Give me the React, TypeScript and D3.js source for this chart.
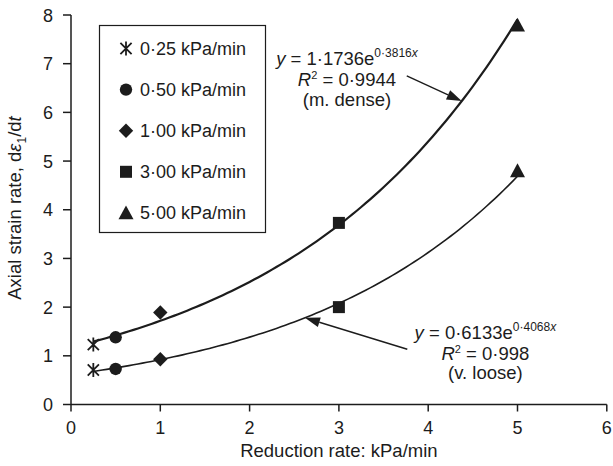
import React from 'react';
import * as d3 from 'd3';

const rates = [0.25, 0.5, 1, 3, 5];
const legendLabels = ['0·25 kPa/min', '0·50 kPa/min', '1·00 kPa/min', '3·00 kPa/min', '5·00 kPa/min'];
const markerTypes = ['asterisk', 'circle', 'diamond', 'square', 'triangle'];
const denseValues = [1.23, 1.38, 1.89, 3.73, 7.79];
const looseValues = [0.71, 0.73, 0.93, 2.0, 4.8];
const fitCoefA = [1.1736, 0.6133];
const fitCoefB = [0.3816, 0.4068];
const xTicks = [0, 1, 2, 3, 4, 5, 6];
const yTicks = [0, 1, 2, 3, 4, 5, 6, 7, 8];

const W = 613;
const H = 466;
const INK = '#1c1c1c';
const FONT = '"Liberation Sans", Arial, Helvetica, sans-serif';

const x = d3.scaleLinear().domain([0, 6]).range([71, 606.8]);
const y = d3.scaleLinear().domain([0, 8]).range([404.5, 15]);

function Marker({ type, cx, cy }: { type: string; cx: number; cy: number }) {
  if (type === 'circle') return <circle cx={cx} cy={cy} r={6.2} fill={INK} />;
  if (type === 'square') return <rect x={cx - 6} y={cy - 6} width={12} height={12} fill={INK} />;
  if (type === 'diamond') {
    const s = 7.2;
    return <path d={`M${cx},${cy - s}L${cx + s},${cy}L${cx},${cy + s}L${cx - s},${cy}Z`} fill={INK} />;
  }
  if (type === 'triangle') {
    const s = 7.5;
    return <path d={`M${cx},${cy - s}L${cx + s},${cy + s * 0.85}L${cx - s},${cy + s * 0.85}Z`} fill={INK} />;
  }
  // asterisk: vertical bar crossed by an X
  const r = 7;
  const d = 5.6;
  return (
    <path
      d={`M${cx},${cy - r}L${cx},${cy + r}M${cx - d},${cy - d}L${cx + d},${cy + d}M${cx - d},${cy + d}L${cx + d},${cy - d}`}
      stroke={INK}
      strokeWidth={1.8}
      fill="none"
    />
  );
}

function Arrow({ x1, y1, x2, y2 }: { x1: number; y1: number; x2: number; y2: number }) {
  const ang = Math.atan2(y2 - y1, x2 - x1);
  const L = 15;
  const w = 5;
  const bx = x2 - L * Math.cos(ang);
  const by = y2 - L * Math.sin(ang);
  const px = -Math.sin(ang) * w;
  const py = Math.cos(ang) * w;
  return (
    <g>
      <line x1={x1} y1={y1} x2={bx} y2={by} stroke={INK} strokeWidth={1.4} />
      <path d={`M${x2},${y2}L${bx + px},${by + py}L${bx - px},${by - py}Z`} fill={INK} />
    </g>
  );
}

export default function App() {
  const samples = d3.range(0.25, 5.0001, 0.05);
  const line = d3
    .line<number[]>()
    .x((d) => x(d[0]))
    .y((d) => y(d[1]));
  const fits = fitCoefA.map((A, i) => samples.map((t) => [t, A * Math.exp(fitCoefB[i] * t)]));

  const series = [denseValues, looseValues];

  return (
    <svg
      width={W}
      height={H}
      style={{ position: 'absolute', left: 0, top: 0, background: '#fff' }}
      fontFamily={FONT}
    >
      <rect width={W} height={H} fill="#fff" />
      {/* axes */}
      <line x1={x(0)} y1={y(0)} x2={x(6)} y2={y(0)} stroke={INK} strokeWidth={1.5} />
      <line x1={x(0)} y1={y(0)} x2={x(0)} y2={y(8)} stroke={INK} strokeWidth={1.5} />
      {xTicks.map((t) => (
        <g key={'xt' + t}>
          <line x1={x(t)} x2={x(t)} y1={y(0)} y2={y(0) + 7} stroke={INK} strokeWidth={1.5} />
          <text x={x(t)} y={434} textAnchor="middle" fontSize={18} fill={INK}>
            {t}
          </text>
        </g>
      ))}
      {yTicks.map((t) => (
        <g key={'yt' + t}>
          <line x1={x(0) - 8} x2={x(0)} y1={y(t)} y2={y(t)} stroke={INK} strokeWidth={1.5} />
          <text x={53} y={y(t) + 6.5} textAnchor="end" fontSize={18} fill={INK}>
            {t}
          </text>
        </g>
      ))}
      <text x={x(3)} y={457} textAnchor="middle" fontSize={18.5} fill={INK}>
        Reduction rate: kPa/min
      </text>
      <text
        transform={`translate(21,${208}) rotate(-90)`}
        textAnchor="middle"
        fontSize={18.5}
        fill={INK}
      >
        Axial strain rate, d<tspan fontStyle="italic">ε</tspan>
        <tspan fontSize={12} dy={5}>1</tspan>
        <tspan dy={-5}>/d</tspan>
        <tspan fontStyle="italic">t</tspan>
      </text>

      {/* fit curves */}
      <path d={line(fits[0] as any) || ''} fill="none" stroke={INK} strokeWidth={2.2} />
      <path d={line(fits[1] as any) || ''} fill="none" stroke={INK} strokeWidth={1.6} />

      {/* points */}
      {series.map((vals, si) =>
        vals.map((v, i) => <Marker key={si + '-' + i} type={markerTypes[i]} cx={x(rates[i])} cy={y(v)} />)
      )}

      {/* legend */}
      <rect x={99.5} y={25.5} width={166} height={207} fill="#fff" stroke={INK} strokeWidth={1.2} />
      {legendLabels.map((lab, i) => {
        const cy = 48.5 + i * 41.1;
        return (
          <g key={'lg' + i}>
            <Marker type={markerTypes[i]} cx={126} cy={cy} />
            <text x={140} y={cy + 6.5} fontSize={18} fill={INK}>
              {lab}
            </text>
          </g>
        );
      })}

      {/* annotations */}
      <text x={x(3.09)} y={65} textAnchor="middle" fontSize={18.5} fill={INK}>
        <tspan fontStyle="italic">y</tspan> = 1·1736e
        <tspan fontSize={12} dy={-8}>0·3816</tspan>
        <tspan fontSize={12} fontStyle="italic">x</tspan>
      </text>
      <text x={x(3.09)} y={86} textAnchor="middle" fontSize={18.5} fill={INK}>
        <tspan fontStyle="italic">R</tspan>
        <tspan fontSize={11} dy={-7}>2</tspan>
        <tspan dy={7}> = 0·9944</tspan>
      </text>
      <text x={x(3.09)} y={106} textAnchor="middle" fontSize={18.5} fill={INK}>
        (m. dense)
      </text>
      <Arrow x1={x(3.76)} y1={y(6.75)} x2={x(4.375)} y2={y(1.1736 * Math.exp(0.3816 * 4.375))} />

      <text x={x(4.64)} y={339} textAnchor="middle" fontSize={18.5} fill={INK}>
        <tspan fontStyle="italic">y</tspan> = 0·6133e
        <tspan fontSize={12} dy={-8}>0·4068</tspan>
        <tspan fontSize={12} fontStyle="italic">x</tspan>
      </text>
      <text x={x(4.64)} y={360} textAnchor="middle" fontSize={18.5} fill={INK}>
        <tspan fontStyle="italic">R</tspan>
        <tspan fontSize={11} dy={-7}>2</tspan>
        <tspan dy={7}> = 0·998</tspan>
      </text>
      <text x={x(4.64)} y={379} textAnchor="middle" fontSize={18.5} fill={INK}>
        (v. loose)
      </text>
      <Arrow x1={x(3.766)} y1={y(1.134)} x2={x(2.62)} y2={y(0.6133 * Math.exp(0.4068 * 2.62))} />
    </svg>
  );
}
